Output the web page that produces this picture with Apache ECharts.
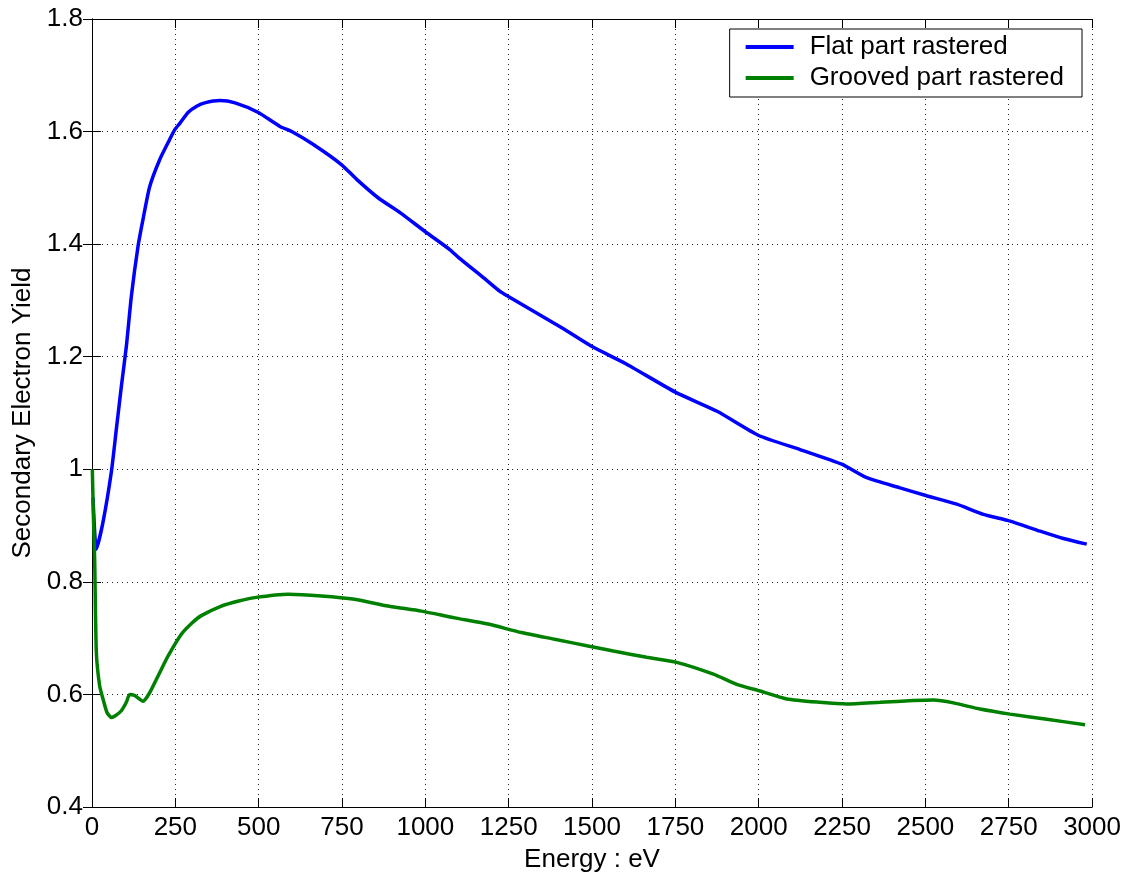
<!DOCTYPE html>
<html>
<head>
<meta charset="utf-8">
<script src="https://cdn.jsdelivr.net/npm/echarts@6/dist/echarts.min.js"></script>
<style>
  html, body { margin: 0; padding: 0; background: #fff; }
  #chart { width: 1124px; height: 878px; }
</style>
</head>
<body>
<div id="chart"></div>
<script>
// Secondary electron yield versus primary energy for two rastered regions
const flatEnergy = [3, 13, 33, 58, 73, 88, 103, 118, 138, 153, 173, 203, 233, 248, 264, 288, 314, 338, 384, 429,
  499, 564, 599, 664, 749, 794, 859, 924, 1000, 1074, 1100, 1175, 1224, 1249, 1413, 1500, 1600, 1750, 1875, 2000,
  2124, 2249, 2324, 2424, 2504, 2594, 2674, 2754, 2844, 2914, 2984];
const flatYield = [0.95, 0.858, 0.906, 0.995, 1.071, 1.147, 1.218, 1.307, 1.396, 1.444, 1.502, 1.550, 1.586, 1.603, 1.615, 1.634, 1.645, 1.651, 1.655, 1.651,
  1.634, 1.609, 1.600, 1.577, 1.541, 1.515, 1.482, 1.456, 1.422, 1.390, 1.376, 1.340, 1.316, 1.307, 1.250, 1.218, 1.188, 1.137, 1.103, 1.060,
  1.035, 1.009, 0.985, 0.967, 0.953, 0.938, 0.920, 0.908, 0.890, 0.877, 0.867];

const groovedEnergy = [1, 4, 8, 13, 23, 33, 45, 58, 70, 88, 103, 113, 128, 153, 173, 200, 228, 268, 300, 328,
  388, 440, 488, 588, 688, 788, 888, 988, 1088, 1188, 1288, 1388, 1488, 1564, 1664, 1754, 1864, 1934, 2004, 2084,
  2184, 2264, 2364, 2464, 2524, 2584, 2664, 2754, 2864, 2979];
const groovedYield = [1.0, 0.92, 0.84, 0.675, 0.615, 0.592, 0.568, 0.559, 0.562, 0.571, 0.586, 0.600, 0.598, 0.588, 0.603, 0.635, 0.668, 0.707, 0.727, 0.740,
  0.757, 0.766, 0.772, 0.778, 0.775, 0.769, 0.757, 0.748, 0.736, 0.725, 0.710, 0.698, 0.686, 0.677, 0.666, 0.657, 0.636, 0.618, 0.606, 0.592,
  0.586, 0.583, 0.586, 0.589, 0.590, 0.585, 0.574, 0.565, 0.556, 0.546];

const seriesNames = ['Flat part rastered', 'Grooved part rastered'];
const xTitle = 'Energy : eV';
const yTitle = 'Secondary Electron Yield';

const pairs = (xs, ys) => xs.map((x, i) => [x, ys[i]]);

const FONT = 'Liberation Sans, Arial, sans-serif';
const FS = 26;

const gridLine = { show: true, lineStyle: { color: '#222', width: 1, type: [1, 4] } };
const tickIn = { show: true, inside: true, length: 9, lineStyle: { color: '#000', width: 1 } };
const axisLine = { show: true, lineStyle: { color: '#000', width: 1 } };

const chart = echarts.init(document.getElementById('chart'), null, { renderer: 'canvas' });
chart.setOption({
  backgroundColor: '#fff',
  animation: false,
  textStyle: { fontFamily: FONT },
  grid: { left: 92, right: 31, top: 19, bottom: 70, containLabel: false },
  legend: {
    orient: 'vertical',
    right: 42,
    top: 29,
    backgroundColor: '#fff',
    borderColor: '#000',
    borderWidth: 1,
    borderRadius: 0,
    padding: [5, 18, 6, 16],
    itemGap: 5,
    itemWidth: 48,
    itemHeight: 4,
    icon: 'rect',
    textStyle: { fontSize: FS, color: '#000', fontFamily: FONT, lineHeight: 26, padding: [0, 0, 0, 11] },
    data: seriesNames
  },
  xAxis: [
    {
      type: 'value', min: 0, max: 3000, interval: 250,
      axisLine: axisLine, axisTick: tickIn, splitLine: gridLine,
      axisLabel: { fontSize: FS, color: '#000', margin: 8, fontFamily: FONT, formatter: v => String(v) },
      name: xTitle, nameLocation: 'middle', nameGap: 40,
      nameTextStyle: { fontSize: FS, color: '#000', fontFamily: FONT }
    },
    {
      type: 'value', position: 'top', min: 0, max: 3000, interval: 250,
      axisLine: axisLine, axisTick: tickIn, splitLine: { show: false }, axisLabel: { show: false }
    }
  ],
  yAxis: [
    {
      type: 'value', min: 0.4, max: 1.8, interval: 0.2,
      axisLine: axisLine, axisTick: tickIn, splitLine: gridLine,
      axisLabel: { fontSize: FS, color: '#000', margin: 9, fontFamily: FONT },
      name: yTitle, nameLocation: 'middle', nameGap: 56, nameRotate: 90,
      nameTextStyle: { fontSize: FS, color: '#000', fontFamily: FONT }
    },
    {
      type: 'value', position: 'right', min: 0.4, max: 1.8, interval: 0.2,
      axisLine: axisLine, axisTick: tickIn, splitLine: { show: false }, axisLabel: { show: false }
    }
  ],
  series: [
    {
      name: seriesNames[0], type: 'line', xAxisIndex: 0, yAxisIndex: 0,
      showSymbol: false, symbol: 'none', smooth: 0.2,
      itemStyle: { color: '#0000ff' },
      lineStyle: { color: '#0000ff', width: 3.5 },
      data: pairs(flatEnergy, flatYield)
    },
    {
      name: seriesNames[1], type: 'line', xAxisIndex: 0, yAxisIndex: 0,
      showSymbol: false, symbol: 'none', smooth: 0.2,
      itemStyle: { color: '#008000' },
      lineStyle: { color: '#008000', width: 3.5 },
      data: pairs(groovedEnergy, groovedYield)
    }
  ]
});
</script>
</body>
</html>
